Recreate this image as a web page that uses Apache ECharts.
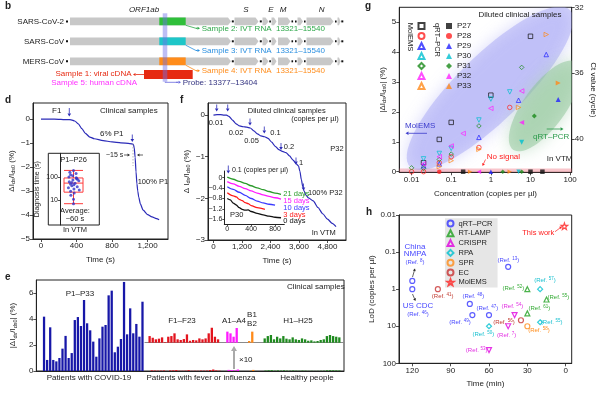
<!DOCTYPE html>
<html><head><meta charset="utf-8">
<script src="https://cdn.jsdelivr.net/npm/echarts@6.0.0/dist/echarts.min.js"></script>
<style>html,body{margin:0;padding:0;background:#fff}#c{width:600px;height:393px}</style>
</head><body><div id="c"></div>
<script>
// ================= DATA =================
// panel d
const dTime   = [0,100,200,250,300,340,380,420,460,500,550,600,700,800,900,1000,1040,1050,1060,1070,1080,1090,1100,1120,1150,1200,1250,1300,1330];
const dSignal = [0,0,-0.01,-0.02,-0.02,-0.03,-0.08,-0.2,-0.4,-0.6,-0.75,-0.82,-0.9,-0.95,-0.99,-1.02,-1.05,-1.2,-1.6,-2.2,-2.7,-3.0,-3.25,-3.55,-3.8,-3.98,-4.08,-4.15,-4.2];
const dXTicks = [0,400,800,1200];
const dYTicks = [0,-1,-2,-3,-4,-5];
const dDiagTimes = [190,160,140,125,112,100,92,86,80,74,68,62,57,53,50,46,42,38,34,30,27,24,20,16,11,7];
const dBoxStats  = [7,22,54,90,190];
const dInsetTicks = [10,100];
// panel f
const fTime   = [0,150,300,450,550,650,800,950,1100,1250,1400,1550,1700,1850,2000,2150,2300,2450,2600,2750,2900,3050,3200,3350,3500,3580,3640,3700,3760,3820,3900,4000,4200,4400,4600,4800,5000,5160];
const fSignal = [0,0.01,0.01,0,0,-0.03,-0.12,-0.21,-0.26,-0.28,-0.29,-0.31,-0.38,-0.45,-0.5,-0.52,-0.56,-0.65,-0.75,-0.83,-0.87,-0.9,-0.98,-1.08,-1.18,-1.22,-1.35,-1.55,-1.72,-1.83,-1.93,-1.99,-2.06,-2.22,-2.37,-2.5,-2.6,-2.68];
const fXTicks = [0,1200,2400,3600,4800];
const fYTicks = [0,-1,-2,-3];
const fInsetNames = ['21 days','15 days','10 days','3 days','0 days'];
const fInT21 = [0,100,200,300,400,500,600,700,800,900];
const fInY21 = [0.02,-0.06,-0.14,-0.22,-0.31,-0.39,-0.46,-0.53,-0.59,-0.64];
const fInT15 = [0,100,200,300,400,500,600,700,800,900];
const fInY15 = [-0.15,-0.24,-0.33,-0.42,-0.51,-0.59,-0.66,-0.72,-0.77,-0.82];
const fInT10 = [0,100,200,300,400,500,600,700,800];
const fInY10 = [-0.35,-0.45,-0.56,-0.68,-0.8,-0.9,-0.97,-1.02,-1.05];
const fInT3  = [0,100,150,200,250,300,350,400,500,630];
const fInY3  = [-0.58,-0.7,-0.74,-0.83,-0.88,-0.96,-1.0,-1.07,-1.15,-1.22];
const fInT0  = [0,50,100,150,200,250,300,350,400,500,600,700,800,900];
const fInY0  = [-0.8,-0.85,-0.98,-1.05,-1.15,-1.22,-1.25,-1.24,-1.3,-1.37,-1.43,-1.48,-1.52,-1.54];
const fInXTicks = [0,400,800];
const fInYTicks = [0,-0.4,-0.8,-1.2,-1.6];
// panel e
const covidVals   = [4.18,0.85,3.36,0.85,0.74,1.0,1.72,2.7,1.0,1.38,3.92,4.15,3.46,5.46,3.67,3.13,2.26,1.1,2.51,3.41,3.54,5.82,6.18,1.44,1.87,2.46,6.85,2.82,4.82,2.9,3.62,2.64,5.33];
const feverVals   = [0.051,0.038,0.026,0.031,0.041,0.005,0.046,0.051,0.072,0.026,0.021,0.028,0.064,0.015,0.021,0.018,0.033,0.026,0.033,0.072,0.115,0.046,0.026];
const influAVals  = [0.085,0.072,0.046,0.113];
const influBVals  = [0.013,0.085];
const healthyVals = [0.033,0.051,0.059,0.026,0.046,0.033,0.051,0.031,0.026,0.041,0.026,0.021,0.033,0.026,0.015,0.018,0.01,0.013,0.021,0.026,0.051,0.059,0.051,0.046,0.041];
const eYTicks = [0,2,4,6];
// panel g  (concentration in copies per µl, |ΔI/I| in %, Ct in cycles)
const gPatients = ['P27','P28','P29','P30','P31','P32','P33'];
const molP27 = [[0.02,0.3],[0.05,1.08],[0.1,1.65],[1,2.56],[10,4.53]];
const molP28 = [[0.01,0],[0.02,0],[0.05,0.3],[0.1,0.5],[0.5,0.81],[3,2.15]];
const molP29 = [[0.02,0.2],[0.05,0.26],[0.5,1.15],[5,2.39],[25,3.92]];
const molP30 = [[0.02,0.43],[0.05,0.61],[0.1,0.78],[0.5,1.73],[1,2.43],[3,2.67]];
const molP31 = [[0.01,0.13],[0.02,0.11],[0.05,0.41],[0.1,0.59],[0.5,1.53],[6,3.49]];
const molP32 = [[0.02,0.26],[0.05,0.5],[0.1,0.86],[0.2,1.28],[1,2.12],[6,2.7]];
const molP33 = [[0.05,0.17],[0.1,0.37],[0.5,0.75],[5,2.15],[25,4.59]];
const ctP27 = [], ctP28 = [], ctP29 = [[50,37.6]], ctP30 = [[6,40.2]], ctP31 = [[12.5,38.6]], ctP32 = [[6,39.0]], ctP33 = [[50,36.6]];
const nsP27 = [0.2,10,20], nsP28 = [0.05], nsP29 = [1], nsP30 = [5], nsP31 = [2,6], nsP32 = [0.5], nsP33 = [0.3,3];
const gConcTicks = [0.01,0.1,1,10,100];
const gYTicks = [0,1,2,3,4,5];
const gCtTicks = [32,36,40];
// panel h  ([time min, LoD copies per µl])
const hNames = ['qRT–PCR','RT-LAMP','CRISPR','RPA','SPR','EC','MolEMS'];
const hQrt    = [[120,1],[120,0.6],[75,2.5],[73,5],[60,5],[45,0.25]];
const hLamp   = [[30,1],[15,1.9],[30,4.5]];
const hCrispr = [[40,5],[45,10],[60,44]];
const hRpa    = [[20,1],[60,10],[20,7.8]];
const hSpr    = [[30,10]];
const hEc     = [[100,1],[35,6.9]];
const hMolems = [[1,0.02]];
const hTimeTicks = [0,30,60,90,120];
const hLodTicks  = [0.01,0.1,1,10,100];

// ================= STYLE =================
const FONT = '"Liberation Sans", Arial, Helvetica, sans-serif';
const INK = '#222';
const NAVY = '#2b2bb8';
const RICH = {sub:{fontSize:5.5,fontFamily:FONT,color:INK,verticalAlign:'bottom',lineHeight:10}};
const minus = v => (v < 0 ? '\u2212' + Math.abs(v) : String(v));
const comma = v => Number(v).toLocaleString('en-US');
const pow10 = v => { const r = Math.pow(10, v); return r < 1 ? r.toFixed(Math.round(-v)) : String(Math.round(r)); };
const lg = Math.log10;

function vAxis(o) {
  const a = {
    type:'value', gridIndex:o.grid, min:o.min, max:o.max, inverse:!!o.inverse,
    name:o.name||'', nameLocation:'middle', nameGap:o.nameGap||15,
    nameTextStyle:{fontSize:o.nameSize||8,color:INK,fontFamily:FONT,lineHeight:10,rich:RICH},
    axisLine:{show:true,onZero:false,lineStyle:{color:INK,width:1}},
    axisTick:{show:true,length:o.tickLen||3,customValues:o.ticks,lineStyle:{color:INK,width:0.8}},
    axisLabel:{show:true,customValues:o.ticks,formatter:o.fmt||minus,fontSize:o.labelSize||8,color:INK,fontFamily:FONT,margin:o.margin||3},
    splitLine:{show:false}
  };
  if (o.position) a.position = o.position;
  if (o.nameRotate !== undefined) a.nameRotate = o.nameRotate;
  return a;
}
function hiddenCat(grid, data, extra) {
  return Object.assign({type:'category', gridIndex:grid, data:data, show:false}, extra||{});
}

// ================= PANEL e slots =================
const eSlots = [], eData = [];
const eColors = {covid:'#1717a8', fever:'#e3141e', A:'#ff1aff', B:'#ff8a1a', H:'#1f8a1f'};
function eGap(n){ for (let i=0;i<n;i++){ eSlots.push('gap'+eSlots.length); eData.push('-'); } }
function eGroup(prefix, vals, color){ vals.forEach((v,i)=>{ eSlots.push(prefix+(i+1)); eData.push({value:v,itemStyle:{color:color}}); }); }
eGap(2); eGroup('P',covidVals,eColors.covid); eGap(2); eGroup('F',feverVals,eColors.fever); eGap(2);
eGroup('A',influAVals,eColors.A); eGap(3); eGroup('B',influBVals,eColors.B); eGap(3); eGroup('H',healthyVals,eColors.H); eGap(1);
const eOverlayStart = 36;

// ================= PANEL g series =================
const gColors = {P27:'#111111',P28:'#ff2222',P29:'#2222ff',P30:'#00bfd0',P31:'#1a8a1a',P32:'#ff22ff',P33:'#ff8a1a'};
const gSym = {P27:['rect',0],P28:['circle',0],P29:['triangle',0],P30:['triangle',180],P31:['diamond',0],P32:['triangle',90],P33:['triangle',-90]};
const molMap = {P27:molP27,P28:molP28,P29:molP29,P30:molP30,P31:molP31,P32:molP32,P33:molP33};
const ctMap  = {P27:ctP27,P28:ctP28,P29:ctP29,P30:ctP30,P31:ctP31,P32:ctP32,P33:ctP33};
const nsMap  = {P27:nsP27,P28:nsP28,P29:nsP29,P30:nsP30,P31:nsP31,P32:nsP32,P33:nsP33};

function ellipse(center, a, b, angDeg, fill, glow) {
  return {type:'custom', xAxisIndex:7, yAxisIndex:6, z:1, silent:true, data:[center],
    renderItem:function(params, api){
      const c = api.coord([api.value(0), api.value(1)]);
      const cs = params.coordSys;
      const ang = angDeg*Math.PI/180, ca = Math.cos(ang), sa = Math.sin(ang);
      const pts = [];
      for (let i=0;i<72;i++){ const t=i/72*2*Math.PI; const x=a*Math.cos(t), y=b*Math.sin(t); pts.push([c[0]+x*ca-y*sa, c[1]+x*sa+y*ca]); }
      return {type:'group', clipPath:{type:'rect',shape:{x:cs.x,y:cs.y,width:cs.width,height:cs.height}},
        children:[{type:'polygon',shape:{points:pts},style:{fill:fill,shadowBlur:16,shadowColor:glow}}]};
    }};
}

const series = [];
// d
series.push({type:'line',xAxisIndex:0,yAxisIndex:0,data:dTime.map((t,i)=>[t,dSignal[i]]),showSymbol:false,smooth:0.25,smoothMonotone:'x',lineStyle:{color:NAVY,width:1.2},z:3});
series.push({type:'boxplot',xAxisIndex:1,yAxisIndex:1,data:[dBoxStats.map(lg)],boxWidth:[19,19],itemStyle:{color:'rgba(0,0,0,0)',borderColor:'#ff3b3b',borderWidth:1},z:3});
series.push({type:'scatter',xAxisIndex:2,yAxisIndex:1,data:dDiagTimes.map(v=>['P1–P26',lg(v)]),symbolSize:3,itemStyle:{color:'#3434c8'},z:4});
// f
series.push({type:'line',xAxisIndex:3,yAxisIndex:2,data:fTime.map((t,i)=>[t,fSignal[i]]),showSymbol:false,smooth:0.25,smoothMonotone:'x',lineStyle:{color:NAVY,width:1.2},z:3});
const fInColors = ['#2a9a2a','#ff1aff','#3a3aff','#ff1a1a','#111111'];
[[fInT21,fInY21],[fInT15,fInY15],[fInT10,fInY10],[fInT3,fInY3],[fInT0,fInY0]].forEach((p,k)=>{
  series.push({type:'line',name:fInsetNames[k],xAxisIndex:4,yAxisIndex:3,data:p[0].map((t,i)=>[t,p[1][i]]),showSymbol:false,smooth:0.3,smoothMonotone:'x',lineStyle:{color:fInColors[k],width:1.3},z:4});
});
// e
series.push({type:'bar',xAxisIndex:5,yAxisIndex:4,data:eData,barWidth:'74%',z:3});
series.push({type:'bar',xAxisIndex:6,yAxisIndex:5,data:eData.slice(eOverlayStart),barWidth:'74%',z:3});
// g
series.push(ellipse([lg(0.95),2.79],112,33,-44.4,'rgba(160,160,245,0.45)','rgba(160,160,245,0.85)'));
series.push(ellipse([lg(23),2.2],54,21,-54,'rgba(140,195,150,0.5)','rgba(140,195,150,0.85)'));
gPatients.forEach((p,k)=>{
  const col = gColors[p], sym = gSym[p];
  const s = {type:'scatter',name:p+' MolEMS',xAxisIndex:7,yAxisIndex:6,data:molMap[p].map(d=>[lg(d[0]),d[1]]),
    symbol:sym[0],symbolRotate:sym[1],symbolSize:4.5,itemStyle:{color:'rgba(255,255,255,0)',borderColor:col,borderWidth:0.9},z:5};
  if (k===0) s.markArea = {silent:true,itemStyle:{color:'rgba(240,110,125,0.4)'},data:[[{yAxis:-0.02},{yAxis:0.11}]]};
  series.push(s);
  series.push({type:'scatter',name:p,xAxisIndex:7,yAxisIndex:7,data:ctMap[p].map(d=>[lg(d[0]),d[1]]),
    symbol:sym[0],symbolRotate:sym[1],symbolSize:5,itemStyle:{color:col},z:6});
  series.push({type:'scatter',name:p,xAxisIndex:7,yAxisIndex:6,data:nsMap[p].map(c=>[lg(c),0]),
    symbol:sym[0],symbolRotate:sym[1],symbolSize:4.5,itemStyle:{color:col},z:6});
});
// h
const STAR = 'path://M0,-10L2.35,-3.24L9.51,-3.09L3.8,1.24L5.88,8.09L0,4L-5.88,8.09L-3.8,1.24L-9.51,-3.09L-2.35,-3.24Z';
const hSets = [hQrt,hLamp,hCrispr,hRpa,hSpr,hEc,hMolems];
const hCol = ['#3535ff','#1fa01f','#e000e0','#00c0d0','#ff8c1a','#c83232','#ff2020'];
const hSym = [['circle',0],['triangle',0],['triangle',180],['diamond',0],['circle',0],['circle',0],[STAR,0]];
hSets.forEach((set,k)=>{
  series.push({type:'scatter',name:hNames[k],xAxisIndex:8,yAxisIndex:8,data:set.map(d=>[d[0],lg(d[1])]),
    symbol:hSym[k][0],symbolRotate:hSym[k][1],symbolSize:k===6?6.5:5,itemStyle:{color:'rgba(255,255,255,0)',borderColor:hCol[k],borderWidth:1.2},z:5});
});

// ================= GRAPHIC (schematic + annotations) =================
const G = [];
function T(x,y,s,o){ o=o||{}; G.push({type:'text',x:x,y:y,rotation:o.rot||0,z:60,silent:true,
  style:{text:s,fill:o.color||INK,fontSize:o.size||8,fontFamily:FONT,fontStyle:o.italic?'italic':'normal',fontWeight:o.bold?'bold':'normal',
  align:o.align||'left',verticalAlign:o.va||'middle',rich:o.rich,lineHeight:o.lh}}); }
function L(x1,y1,x2,y2,c,w,dash){ G.push({type:'line',z:55,silent:true,shape:{x1:x1,y1:y1,x2:x2,y2:y2},style:{stroke:c,lineWidth:w||0.8,lineDash:dash||null}}); }
function PL(pts,c,w){ G.push({type:'polyline',z:55,silent:true,shape:{points:pts},style:{stroke:c,lineWidth:w||0.8,fill:null}}); }
function A(x1,y1,x2,y2,c,w,hl,hw){ hl=hl||3; hw=hw||1.7; const an=Math.atan2(y2-y1,x2-x1); const bx=x2-hl*Math.cos(an), by=y2-hl*Math.sin(an);
  const px=-Math.sin(an)*hw, py=Math.cos(an)*hw; L(x1,y1,bx,by,c,w);
  G.push({type:'polygon',z:56,silent:true,shape:{points:[[x2,y2],[bx+px,by+py],[bx-px,by-py]]},style:{fill:c}}); }
function R(x,y,w,h,fill,stroke,z){ G.push({type:'rect',z:z||50,silent:true,shape:{x:x,y:y,width:w,height:h},style:{fill:fill,stroke:stroke||null,lineWidth:1}}); }
function GENE(x1,x2,top,h,fill){ const m=top+h/2, t=Math.min(3,(x2-x1)/2);
  G.push({type:'polygon',z:50,silent:true,shape:{points:[[x1,top],[x2-t,top],[x2,m],[x2-t,top+h],[x1,top+h]]},style:{fill:fill}}); }

// panel labels
[['b',5,6],['d',5,100],['f',180,100],['e',5,277],['g',365,6],['h',366,212]].forEach(p=>T(p[1],p[2],p[0],{bold:true,size:10}));

// ---- panel b schematic ----
const GRAY = '#c8c8c8';
const rowTop = [17.5,37.4,57.4], rowH = 7.8;
const rowNames = ['SARS-CoV-2','SARS-CoV','MERS-CoV'];
const regionCol = ['#2fbf3a','#1ec6c8','#ff8c1a'];
const sampleTxt = ['Sample 2: IVT RNA  13321\u201315540','Sample 3: IVT RNA  13321\u201315540','Sample 4: IVT RNA  13321\u201315540'];
const sampleCol = ['#2ea84a','#2a8fe0','#ff8c1a'];
const sampleY = [28.3,50.5,70.7];
rowTop.forEach((top,i)=>{
  const m = top+rowH/2;
  T(64,m,rowNames[i],{align:'right'});
  R(66,m-1,2,2,'#111');
  GENE(70,231,top,rowH,GRAY);
  R(231.8,m-1,2,2,'#111');
  GENE(234.5,258.5,top,rowH,GRAY);
  R(259.8,m-1,2,2,'#111');
  GENE(262.5,268.5,top,rowH,GRAY);
  R(269.3,m-1,1.6,2,'#111');
  GENE(271.5,276.5,top,rowH,GRAY);
  GENE(278,290.5,top,rowH,GRAY);
  R(291.5,m-1,1.6,2,'#111'); R(295,m-1,1.6,2,'#111');
  GENE(297.5,303,top,rowH,GRAY);
  R(304,m-1,1.6,2,'#111');
  GENE(306.5,333.5,top,rowH,GRAY);
  R(335,m-1,1.6,2,'#111');
  GENE(337.5,340.5,top,rowH,GRAY);
  R(341.3,m-1,2,2,'#111');
  R(159.3,top,26.4,rowH,regionCol[i],null,51);
  PL([[185.7,top+rowH],[196,sampleY[i]],[197.5,sampleY[i]]],sampleCol[i],0.8);
  A(196,sampleY[i],200,sampleY[i],sampleCol[i],0.8,2.5,1.5);
  T(201.7,sampleY[i],sampleTxt[i],{color:sampleCol[i]});
});
T(144,9.7,'ORF1ab',{italic:true,align:'center'});
T(246,9.7,'S',{italic:true,align:'center'});
T(271,9.7,'E',{italic:true,align:'center'});
T(283,9.7,'M',{italic:true,align:'center'});
T(321.7,9.7,'N',{italic:true,align:'center'});
R(144,70,48.7,9,'#e62a12',null,51);
G.push({type:'rect',z:52,silent:true,shape:{x:162.7,y:13.3,width:4.6,height:68.4},style:{fill:'rgba(110,110,235,0.45)'}});
A(144,74.5,133,74.5,'#e62a12',0.8,2.5,1.6);
T(131.5,73.6,'Sample 1: viral cDNA',{align:'right',color:'#e62a12'});
T(137,82.3,'Sample 5: human cDNA',{align:'right',color:'#ff33ff'});
PL([[165,81.7],[165,82.3],[178,82.3]],'#6666dd',0.8);
A(176,82.3,181,82.3,'#6666dd',0.8,2.5,1.5);
T(182.7,82.3,'Probe: 13377\u201313404',{color:'#333380'});

// ---- panel d annotations ----
T(52,110.7,'F1');
A(69.3,108,69.3,116.5,NAVY,0.8,3,1.8);
T(100,110.7,'Clinical samples');
T(100,133.3,'6% P1');
A(132.3,134.5,132.3,142,NAVY,0.8,3,1.8);
T(106,155,'~15 s',{size:7});
A(124,155,130,155,INK,0.7,2.5,1.5);
A(143,155,137,155,INK,0.7,2.5,1.5);
L(133,144,133,166,'#999',0.7,[1.5,1.5]);
T(137.7,181.7,'100% P1',{size:7.5});
R(48.3,153.3,51,71.7,'rgba(0,0,0,0)',INK,50);
T(73.5,159.5,'P1\u2013P26',{align:'center',size:7.5});
T(75,210.7,'Average:',{align:'center',size:7.5});
T(75,218.5,'~60 s',{align:'center',size:7.5});
T(75,230,'In VTM',{align:'center',size:7.5});

// ---- panel f annotations ----
T(286.7,110.7,'Diluted clinical samples',{align:'center',size:7.5});
T(315,118.5,'(copies per \u00b5l)',{align:'center',size:7.5});
[[216.7,104.5],[227.7,104.5],[250,118.5],[264.3,126.5],[281,143],[296,157.5],[303.5,183.5]].forEach(p=>A(p[0],p[1],p[0],p[1]+7,NAVY,0.8,3,1.8));
T(216,123.3,'0.01',{align:'center',size:7.5});
T(236,132.7,'0.02',{align:'center',size:7.5});
T(251.5,140.7,'0.05',{align:'center',size:7.5});
T(275.5,132.7,'0.1',{align:'center',size:7.5});
T(289,146.7,'0.2',{align:'center',size:7.5});
T(299,162.7,'1',{size:7.5});
T(337,149,'P32',{align:'center',size:7.5});
T(308,192.7,'100% P32',{size:7.5});
T(311.7,233,'In VTM',{size:7.5});
A(228.3,165.5,228.3,173.5,NAVY,0.8,3,1.8);
T(232,170,'0.1 (copies per \u00b5l)',{size:7});
T(230,215,'P30',{size:7.5});
const fInLabelY = [193.5,200.5,208,214.5,221];
fInsetNames.forEach((n,k)=>T(283.3,fInLabelY[k],n,{size:7.5,color:fInColors[k]}));

// ---- panel e annotations ----
T(80,293.3,'P1\u2013P33',{align:'center'});
T(182,320.7,'F1\u2013F23',{align:'center'});
T(234,320.7,'A1\u2013A4',{align:'center'});
T(252,314.5,'B1',{align:'center'});
T(252,323.5,'B2',{align:'center'});
T(298,320.7,'H1\u2013H25',{align:'center'});
T(287,286.5,'Clinical samples');
A(234,369,234,346,'#aaaaaa',2,5,3);
T(239,359.3,'\u00d710');
T(89,378,'Patients with COVID-19',{align:'center'});
T(201,378,'Patients with fever or influenza',{align:'center'});
T(307,378,'Healthy people',{align:'center'});

// ---- panel g annotations ----
T(520,14.7,'Diluted clinical samples',{align:'center'});
T(410,37,'MolEMS',{rot:-Math.PI/2,align:'center',size:7.5});
T(437,40,'qRT\u2013PCR',{rot:-Math.PI/2,align:'center',size:7.5});
T(405,126,'MolEMS',{color:'#3a3acc'});
A(427,133.3,405.5,133.3,'#3a3acc',0.8,3,1.7);
T(533,136.7,'qRT\u2013PCR',{color:'#2a9a4a'});
A(546.7,129,563.5,129,'#2a9a4a',0.8,3,1.7);
T(486.7,156.7,'No signal',{color:'#ff2020'});
A(485.5,159.5,482.5,166,'#ff2020',0.7,2.5,1.5);
T(546.7,159,'In VTM');

// ---- panel h annotations ----
const SUP = c => ({s:{fontSize:4.5,fontFamily:FONT,fill:c,verticalAlign:'top',lineHeight:8}});
function REF(x,y,n,c){ T(x,y,'(Ref. {s|'+n+'})',{align:'center',size:6,color:c,rich:SUP(c),lh:8}); }
const cQ='#4848ff', cL='#33aa33', cC='#e22ee2', cR='#18c0d0', cS='#ff8c1a', cE='#c03a30';
T(415,246.7,'China',{align:'center',color:cQ});
T(415,254,'NMPA',{align:'center',color:cQ});
REF(415,262,'8',cQ);
A(412.5,277,415,268.5,INK,0.7,2.5,1.5);
A(412.5,294,415.5,301,INK,0.7,2.5,1.5);
T(418,305.7,'US CDC',{align:'center',color:cQ});
REF(418,314,'46',cQ);
REF(442.7,296,'41',cE);
REF(473.3,296.7,'48',cQ);
REF(487.3,308.3,'47',cQ);
REF(460,322.3,'49',cQ);
REF(508.3,260,'13',cQ);
REF(483.3,334.3,'50',cR);
REF(476.7,350.7,'53',cC);
REF(512.3,306.7,'54',cC);
REF(504,322.3,'56',cE);
REF(506.7,335,'7',cC);
REF(539,330.7,'58',cS);
REF(513.3,288.3,'52',cL);
REF(545,280,'57',cR);
REF(558.3,297.3,'55',cL);
REF(539.3,308.3,'61',cL);
REF(551.7,322.3,'55',cR);
T(538.3,233.3,'This work',{align:'center',color:'#ff2020',size:7.5});
A(555,231.7,562,226.5,'#ff2020',0.7,2.5,1.5);

// ================= OPTION =================
const option = {
  animation:false,
  textStyle:{fontFamily:FONT},
  grid:[
    {left:33,top:103,width:135,height:136,show:true,borderColor:INK,borderWidth:1},      //0 d
    {left:60,top:153.3,width:27,height:71.7,show:false},                                   //1 d inset
    {left:208,top:103,width:138,height:137,show:true,borderColor:INK,borderWidth:1},     //2 f
    {left:224.3,top:171,width:60,height:53,show:false},                                    //3 f inset
    {left:33,top:280,width:311,height:91,show:true,borderColor:INK,borderWidth:1},       //4 e
    {left:33+311*eOverlayStart/100,top:280,width:311*(100-eOverlayStart)/100,height:62.7,show:false}, //5 e overlay
    {left:399.3,top:7.3,width:172.4,height:165,show:true,borderColor:INK,borderWidth:1}, //6 g
    {left:399,top:215,width:172.7,height:148.3,show:true,borderColor:INK,borderWidth:1}  //7 h
  ],
  xAxis:[
    vAxis({grid:0,min:-90,max:1430,ticks:dXTicks,fmt:comma,name:'Time (s)',nameGap:16}),
    hiddenCat(1,['P1–P26']),
    hiddenCat(1,['P1–P26'],{jitter:12,jitterOverlap:false,jitterMargin:1}),
    vAxis({grid:2,min:-230,max:5580,ticks:fXTicks,fmt:comma,name:'Time (s)',nameGap:16}),
    vAxis({grid:3,min:-50,max:955,ticks:fInXTicks,labelSize:7,tickLen:2,margin:2}),
    {type:'category',gridIndex:4,data:eSlots,axisLine:{show:true,lineStyle:{color:INK,width:1}},axisTick:{show:false},axisLabel:{show:false},splitLine:{show:false}},
    {type:'category',gridIndex:5,data:eSlots.slice(eOverlayStart),axisLine:{show:true,lineStyle:{color:'#8a8a8a',width:1}},axisTick:{show:false},axisLabel:{show:false},splitLine:{show:false}},
    vAxis({grid:6,min:-2.31,max:2.04,ticks:gConcTicks.map(lg),fmt:pow10,name:'Concentration (copies per \u00b5l)',nameGap:16}),
    vAxis({grid:7,min:-4.7,max:130.4,inverse:true,ticks:hTimeTicks,name:'Time (min)',nameGap:15})
  ],
  yAxis:[
    vAxis({grid:0,min:-5,max:0.67,ticks:dYTicks,name:'\u0394I{sub|ds}/I{sub|ds0} (%)',nameGap:14}),
    vAxis({grid:1,min:-0.073,max:3.017,ticks:dInsetTicks.map(lg),fmt:pow10,labelSize:7,tickLen:2,margin:2,name:'Diagnosis time (s)',nameGap:13,nameSize:7}),
    vAxis({grid:2,min:-3,max:0.29,ticks:fYTicks,name:'\u0394 I{sub|ds}/I{sub|ds0} (%)',nameGap:14}),
    vAxis({grid:3,min:-1.78,max:0.258,ticks:fInYTicks,labelSize:7,tickLen:2,margin:2}),
    vAxis({grid:4,min:0,max:7,ticks:eYTicks,name:'|\u0394I{sub|ds}/I{sub|ds0}| (%)',nameGap:12}),
    {type:'value',gridIndex:5,min:0,max:0.482,show:false},
    vAxis({grid:6,min:-0.02,max:5.5,ticks:gYTicks,name:'|\u0394I{sub|ds}/I{sub|ds0}| (%)',nameGap:10}),
    vAxis({grid:6,min:32,max:42.02,inverse:true,position:'right',ticks:gCtTicks,name:'Ct value (cycle)',nameGap:17,nameRotate:-90}),
    vAxis({grid:7,min:-2,max:2,inverse:true,ticks:hLodTicks.map(lg),fmt:pow10,name:'LoD (copies per \u00b5l)',nameGap:21})
  ],
  legend:[
    {data:gPatients.map(p=>p+' MolEMS'),orient:'vertical',left:417.5,top:22,itemWidth:6,itemHeight:6,itemGap:2,padding:0,
     formatter:()=>'',textStyle:{fontSize:8},selectedMode:false},
    {data:gPatients,orient:'vertical',left:446,top:22,itemWidth:6,itemHeight:6,itemGap:2,padding:0,
     textStyle:{fontSize:8,color:INK,fontFamily:FONT},selectedMode:false},
    {data:hNames,orient:'vertical',left:445,top:218.3,itemWidth:6,itemHeight:6,itemGap:1.8,padding:[1.2,5,1.2,1.5],
     backgroundColor:'#e6e6e6',textStyle:{fontSize:7.5,color:INK,fontFamily:FONT},selectedMode:false}
  ],
  series:series,
  graphic:{elements:G}
};
const chart = echarts.init(document.getElementById('c'), null, {renderer:'canvas', width:600, height:393});
chart.setOption(option);
</script></body></html>
